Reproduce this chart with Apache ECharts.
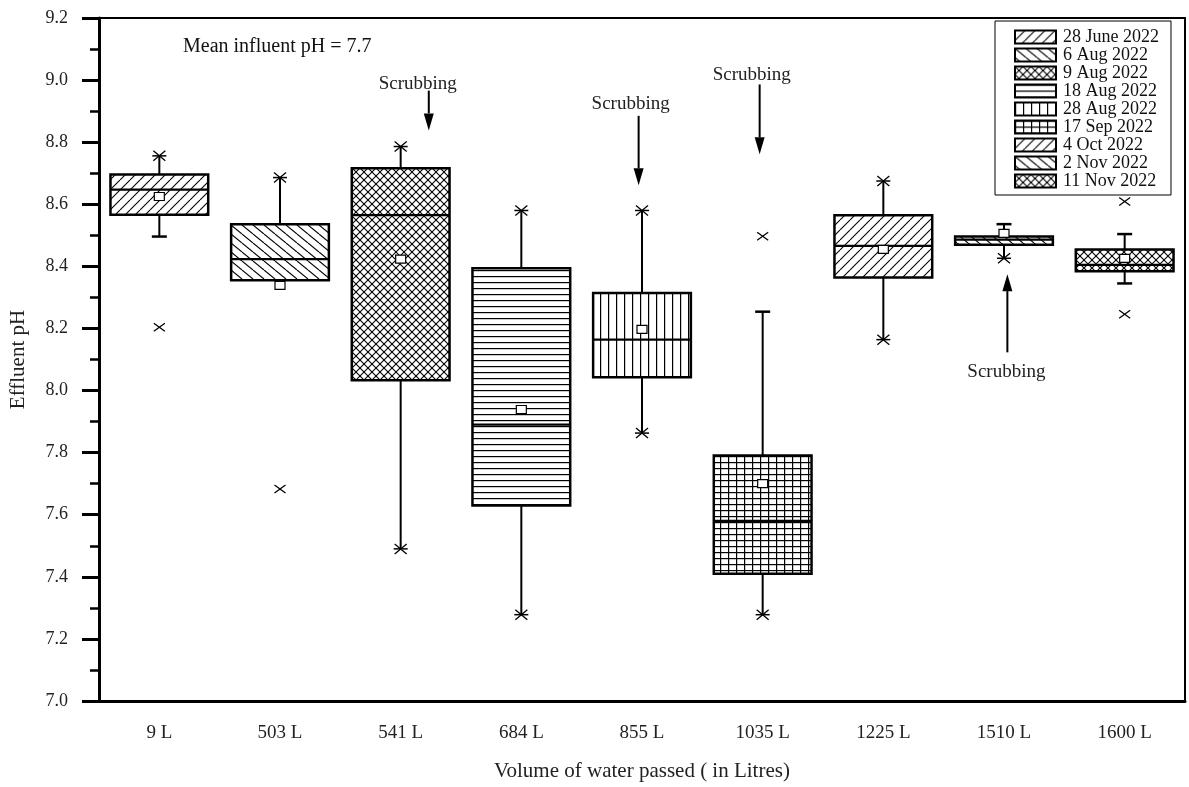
<!DOCTYPE html>
<html>
<head>
<meta charset="utf-8">
<script src="https://cdn.jsdelivr.net/npm/echarts@6/dist/echarts.min.js"></script>
<style>
html,body{margin:0;padding:0;background:#fff;}
#chart{width:1189px;height:787px;}
</style>
</head>
<body>
<div id="chart"></div>
<script>
// ---------------- data ----------------
const categories = ['9 L','503 L','541 L','684 L','855 L','1035 L','1225 L','1510 L','1600 L'];
const dates = ['28 June 2022','6 Aug 2022','9 Aug 2022','18 Aug 2022','28 Aug 2022','17 Sep 2022','4 Oct 2022','2 Nov 2022','11 Nov 2022'];
const q1          = [8.566, 8.355, 8.033, 7.630, 8.043, 7.410, 8.364, 8.470, 8.384];
const median      = [8.647, 8.423, 8.565, 7.890, 8.164, 7.580, 8.466, 8.486, 8.405];
const q3          = [8.696, 8.536, 8.716, 8.394, 8.314, 7.791, 8.565, 8.496, 8.454];
const mean        = [8.625, 8.339, 8.423, 7.939, 8.197, 7.700, 8.455, 8.506, 8.426];
const whiskerLow  = [8.496, 8.355, 7.490, 7.278, 7.863, 7.278, 8.164, 8.426, 8.345];
const whiskerHigh = [8.756, 8.686, 8.786, 8.580, 8.580, 8.254, 8.675, 8.536, 8.504];
const starMarks   = [[8.756],[8.686],[8.786,7.490],[8.580,7.278],[8.580,7.863],[7.278],[8.675,8.164],[8.426],[]];
const outliers    = [[8.204],[7.683],[],[],[],[8.497],[],[],[8.609,8.246]];
const hatchTypes  = ['fwd','back','cross','hor','ver','grid','fwd','back','cross'];

// "Scrubbing" annotations (x in category units, y in pH)
const scrubArrowX    = [2.233, 3.972, 4.975, 7.028];
const scrubArrowFrom = [8.966, 8.885, 8.986, 8.123];
const scrubArrowTo   = [8.838, 8.661, 8.761, 8.375];
const scrubTextX     = [2.142, 3.906, 4.909, 7.020];
const scrubTextY     = [8.986, 8.922, 9.016, 8.059];

const yMin = 7.0, yMax = 9.2, yInterval = 0.2;
const meanInfluentText = 'Mean influent pH = 7.7';

// ---------------- patterns ----------------
const FONT = "'Liberation Serif','Times New Roman',serif";
function makePattern(type) {
  const c = document.createElement('canvas');
  let w = 10, h = 10;
  if (type === 'hor') { w = 4; h = 6; }
  if (type === 'ver') { w = 8; h = 4; }
  if (type === 'grid') { w = 8; h = 6; }
  if (type === 'cross') { w = 8; h = 8; }
  if (type === 'back') { w = 11; h = 9; }
  c.width = w; c.height = h;
  const g = c.getContext('2d');
  g.fillStyle = '#fff'; g.fillRect(0, 0, w, h);
  g.strokeStyle = '#000'; g.lineWidth = 1.1;
  const seg = (a, b, cc, d) => { g.beginPath(); g.moveTo(a, b); g.lineTo(cc, d); g.stroke(); };
  if (type === 'fwd' || type === 'cross') {
    for (let k = -1; k <= 1; k++) seg(k * w, h, (k + 1) * w, 0);
  }
  if (type === 'back' || type === 'cross') {
    for (let k = -1; k <= 1; k++) seg(k * w, 0, (k + 1) * w, h);
  }
  g.fillStyle = '#000';
  if (type === 'hor' || type === 'grid') g.fillRect(0, 0, w, 1.2);
  if (type === 'ver' || type === 'grid') g.fillRect(0, 0, 1.2, h);
  return { image: c, repeat: 'repeat' };
}
const patterns = hatchTypes.map(makePattern);

// ---------------- render ----------------
function L(x1, y1, x2, y2, w) {
  return { type: 'line', shape: { x1, y1, x2, y2 }, style: { stroke: '#000', lineWidth: w } };
}
function renderBox(params, api) {
  const i = api.value(0);
  const band = api.size([1, 0])[0];
  const bw = band * 0.81;
  const cx = api.coord([i, api.value(2)])[0];
  const Y = v => api.coord([i, v])[1];
  const yq1 = Y(api.value(1)), ymed = Y(api.value(2)), yq3 = Y(api.value(3));
  const ymean = Y(api.value(4)), ylo = Y(api.value(5)), yhi = Y(api.value(6));
  const ch = [];
  if (yhi < yq3 - 0.5) ch.push(L(cx, yhi, cx, yq3, 2));
  if (ylo > yq1 + 0.5) ch.push(L(cx, yq1, cx, ylo, 2));
  ch.push({ type: 'rect', shape: { x: cx - bw / 2, y: yq3, width: bw, height: yq1 - yq3 },
            style: { fill: patterns[i], stroke: '#000', lineWidth: 2.5 } });
  ch.push(L(cx - bw / 2, ymed, cx + bw / 2, ymed, 2.2));
  const stars = starMarks[i];
  [[api.value(5), yq1], [api.value(6), yq3]].forEach(([v, edge]) => {
    const y = Y(v);
    if (Math.abs(y - edge) < 0.5) return;
    if (stars.some(s => Math.abs(s - v) < 1e-6)) return;
    ch.push(L(cx - 7.5, y, cx + 7.5, y, 2.5));
  });
  stars.forEach(s => {
    const y = Y(s);
    ch.push(L(cx - 7, y, cx + 7, y, 1.5));
    ch.push(L(cx - 6, y - 5, cx + 6, y + 5, 1.3));
    ch.push(L(cx - 6, y + 5, cx + 6, y - 5, 1.3));
  });
  outliers[i].forEach(o => {
    const y = Y(o);
    ch.push(L(cx - 5.5, y - 4, cx + 5.5, y + 4, 1.3));
    ch.push(L(cx - 5.5, y + 4, cx + 5.5, y - 4, 1.3));
  });
  ch.push({ type: 'rect', shape: { x: cx - 5, y: ymean - 4, width: 10, height: 8 },
            style: { fill: '#fff', stroke: '#000', lineWidth: 1.2 } });
  return { type: 'group', children: ch };
}
function renderScrub(params, api) {
  const band = api.size([1, 0])[0];
  const x0 = api.coord([0, yMin])[0];
  const ax = x0 + api.value(3) * band;
  const yf = api.coord([0, api.value(1)])[1];
  const yt = api.coord([0, api.value(2)])[1];
  const dir = yt > yf ? 1 : -1;
  const head = 17, hw = 5;
  const tx = x0 + api.value(4) * band;
  const ty = api.coord([0, api.value(5)])[1];
  return { type: 'group', children: [
    L(ax, yf, ax, yt - dir * head, 2),
    { type: 'polygon', shape: { points: [[ax - hw, yt - dir * head], [ax + hw, yt - dir * head], [ax, yt]] },
      style: { fill: '#000' } },
    { type: 'text', style: { x: tx, y: ty, text: 'Scrubbing', font: '19px ' + FONT, fill: '#222',
      textAlign: 'center', textVerticalAlign: 'middle' } }
  ] };
}

const series = dates.map((d, i) => ({
  type: 'custom',
  name: d,
  renderItem: renderBox,
  itemStyle: { color: patterns[i], borderColor: '#000', borderWidth: 2 },
  encode: { x: 0, y: [1, 2, 3, 4, 5, 6] },
  data: [[i, q1[i], median[i], q3[i], mean[i], whiskerLow[i], whiskerHigh[i]]],
  clip: false,
  z: 3
}));
series.push({
  type: 'custom',
  name: 'scrub',
  renderItem: renderScrub,
  encode: { x: 0, y: 1 },
  data: scrubArrowX.map((x, k) => [0, scrubArrowFrom[k], scrubArrowTo[k], x, scrubTextX[k], scrubTextY[k]]),
  silent: true,
  clip: false,
  z: 4
});

const chart = echarts.init(document.getElementById('chart'), null, { renderer: 'canvas' });
chart.setOption({
  animation: false,
  backgroundColor: '#fff',
  grid: { left: 98, right: 4, top: 18, bottom: 83, show: true, borderColor: '#000', borderWidth: 2, backgroundColor: 'transparent' },
  legend: {
    data: dates,
    orient: 'vertical',
    left: 995, top: 21,
    padding: [7, 12, 5, 19],
    itemWidth: 41, itemHeight: 13, itemGap: 0,
    icon: 'rect',
    backgroundColor: '#fff',
    borderColor: '#000', borderWidth: 1,
    itemStyle: { borderColor: '#000', borderWidth: 2 },
    textStyle: { fontFamily: FONT, fontSize: 18, color: '#111', lineHeight: 15, padding: [0, 0, 0, 2] },
    selectedMode: false
  },
  xAxis: {
    type: 'category',
    data: categories,
    boundaryGap: true,
    name: 'Volume of water passed ( in Litres)',
    nameLocation: 'middle',
    nameGap: 60,
    nameTextStyle: { fontFamily: FONT, fontSize: 21, color: '#222' },
    axisLine: { lineStyle: { color: '#000', width: 3 } },
    axisTick: { alignWithLabel: true, interval: 0, length: 15, lineStyle: { width: 3, color: '#000' } },
    axisLabel: { fontFamily: FONT, fontSize: 19, color: '#222', margin: 23, interval: 0 },
    splitLine: { show: false }
  },
  yAxis: {
    type: 'value',
    min: yMin, max: yMax, interval: yInterval,
    name: 'Effluent pH',
    nameLocation: 'middle',
    nameGap: 70,
    nameTextStyle: { fontFamily: FONT, fontSize: 21, color: '#222' },
    axisLine: { show: true, lineStyle: { color: '#000', width: 3 } },
    axisTick: { show: true, length: 17, lineStyle: { width: 3, color: '#000' } },
    minorTick: { show: true, splitNumber: 2, length: 9, lineStyle: { width: 2.5, color: '#000' } },
    axisLabel: { fontFamily: FONT, fontSize: 18, color: '#222', margin: 31, formatter: v => v.toFixed(1) },
    splitLine: { show: false }
  },
  graphic: [{
    type: 'text', left: 183, top: 37,
    style: { text: meanInfluentText, font: '20px ' + FONT, fill: '#111' }
  }],
  series: series
});
</script>
</body>
</html>
